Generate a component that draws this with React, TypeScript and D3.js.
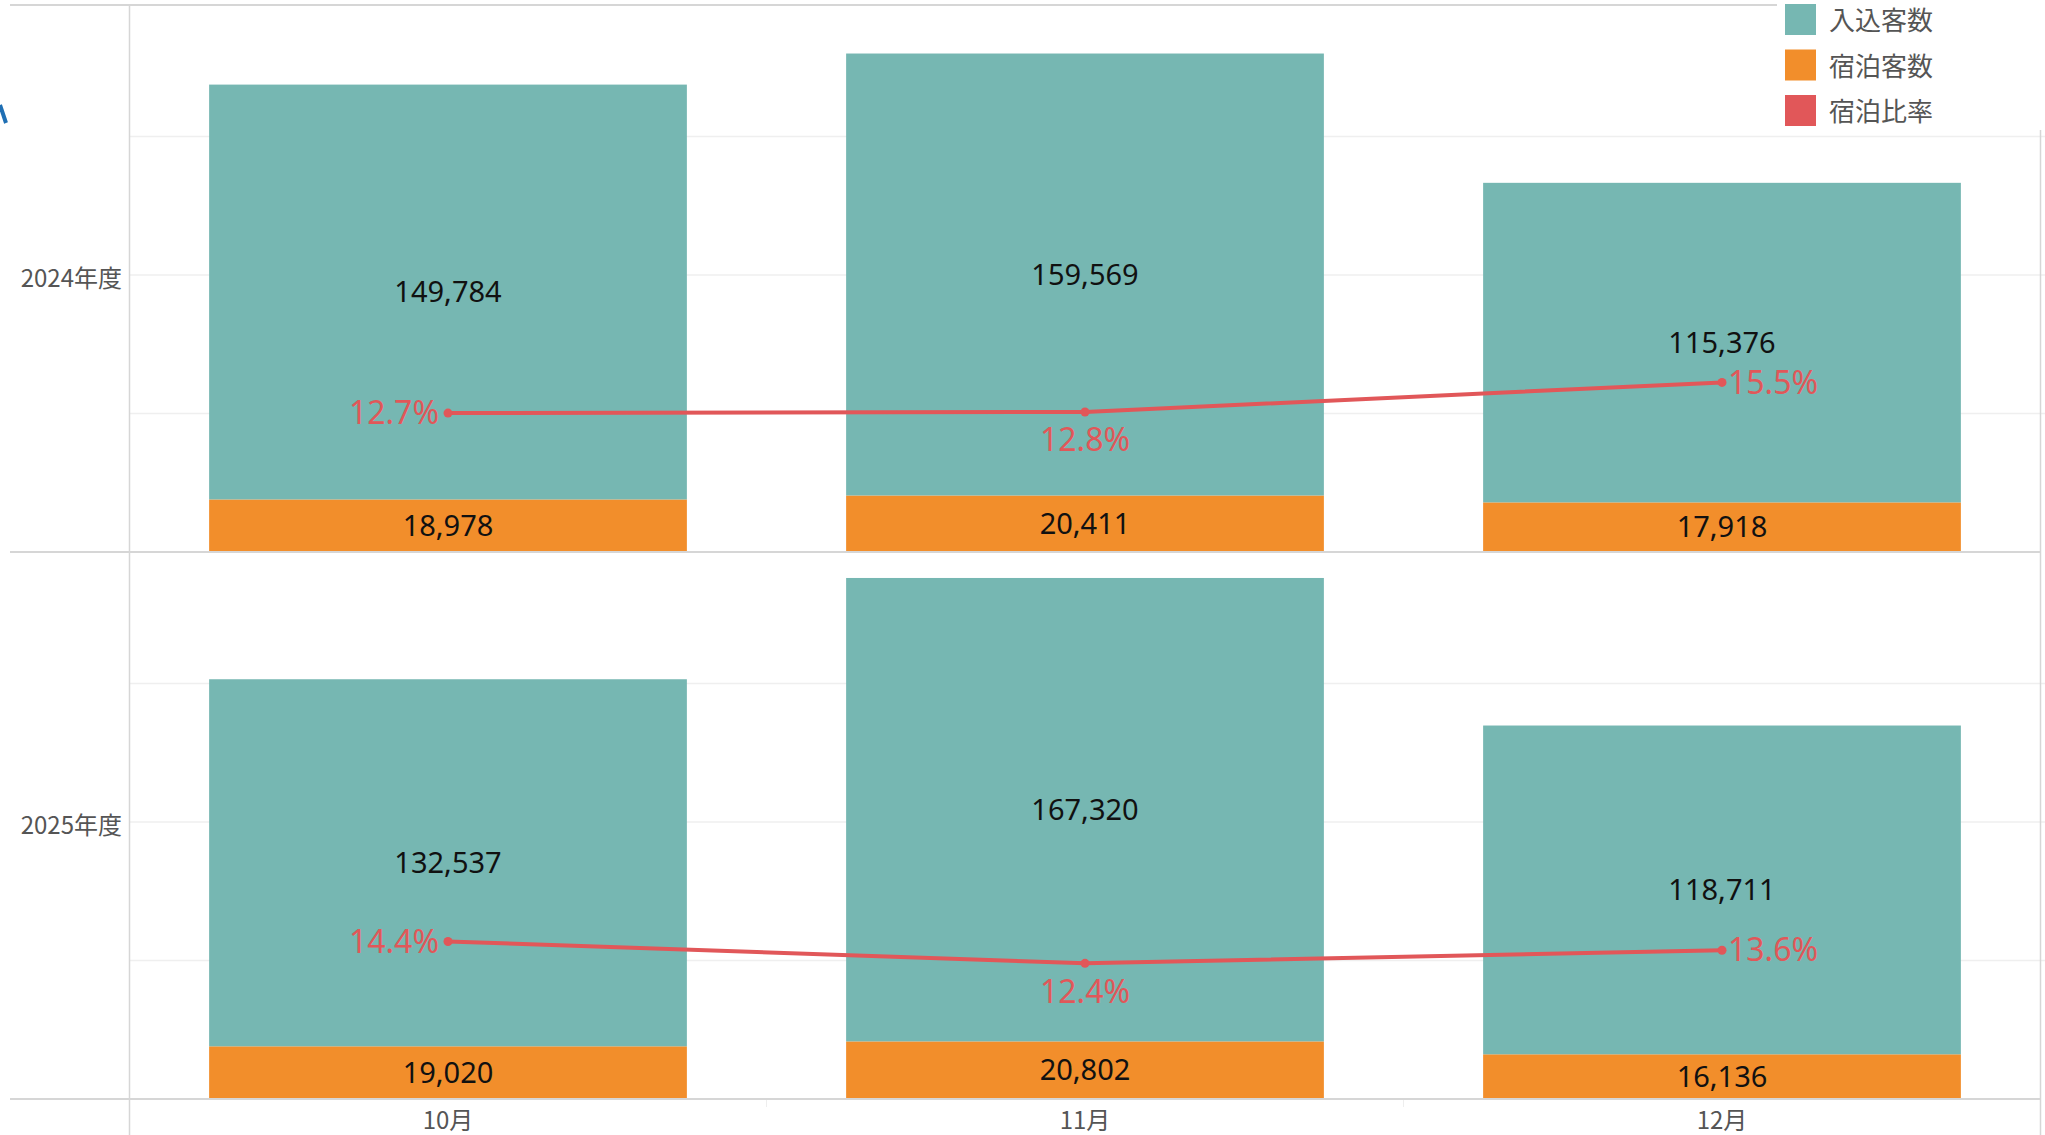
import * as d3 from 'd3';
import { useEffect } from 'react';

const months = ['10月', '11月', '12月'];
const years = ['2024年度', '2025年度'];
const visitors2024 = [149784, 159569, 115376];
const stays2024 = [18978, 20411, 17918];
const ratio2024 = [0.127, 0.128, 0.155];
const visitors2025 = [132537, 167320, 118711];
const stays2025 = [19020, 20802, 16136];
const ratio2025 = [0.144, 0.124, 0.136];
const legendItems = ['入込客数', '宿泊客数', '宿泊比率'];

const TEAL = '#76b7b2';
const ORANGE = '#f28e2b';
const RED = '#e15759';
const LINE = '#d6d6d6';
const GRID = '#efefef';
const NUM_FONT = "'Noto Sans', 'Noto Sans CJK JP', sans-serif";
const CJK_FONT = "'Noto Sans CJK JP', 'Noto Sans', sans-serif";

const width = 2045;
const height = 1135;
const plotLeft = 129.5;
const plotRight = 2040.5;
const panelHeight = 547;
const panelBottoms = [552, 1099];

// where each ratio label sits relative to its point
const ratioPlacement = ['left', 'below', 'right'];

const rows = [
  { year: years[0], visitors: visitors2024, stays: stays2024, ratio: ratio2024 },
  { year: years[1], visitors: visitors2025, stays: stays2025, ratio: ratio2025 },
];

const fmt = d3.format(',');
const pct = d3.format('.1%');

export default function App() {
  useEffect(() => {
    document.body.style.margin = '0';
  }, []);

  const x = d3.scaleBand<string>()
    .domain(months)
    .range([plotLeft, plotRight])
    .paddingInner(0.25)
    .paddingOuter(0.125);

  const legendColor = d3.scaleOrdinal<string, string>()
    .domain(legendItems)
    .range([TEAL, ORANGE, RED]);

  return (
    <svg width={width} height={height} viewBox={`0 0 ${width} ${height}`} style={{ display: 'block' }}>
      <rect width={width} height={height} fill="#fff" />

      {rows.map((row, ri) => {
        const bottom = panelBottoms[ri];
        const top = bottom - panelHeight;
        const y = d3.scaleLinear().domain([0, 197500]).range([bottom, top]);
        const yr = d3.scaleLinear().domain([0, 0.5]).range([bottom, top]);
        const cx = (m: string) => (x(m) ?? 0) + x.bandwidth() / 2;
        const line = d3.line<number>()
          .x((_, i) => cx(months[i]))
          .y((d) => yr(d));

        return (
          <g key={row.year}>
            {y.ticks(4).filter((t) => t > 0).map((t) => (
              <line key={t} x1={plotLeft} x2={width} y1={y(t)} y2={y(t)} stroke={GRID} strokeWidth={1.5} />
            ))}
            <text
              x={122}
              y={(top + bottom) / 2}
              dy="0.35em"
              textAnchor="end"
              fontFamily={CJK_FONT}
              fontSize={24}
              fill="#555"
            >
              {row.year}
            </text>

            {months.map((m, i) => {
              const s = row.stays[i];
              const v = row.visitors[i];
              return (
                <g key={m}>
                  <rect x={x(m)} width={x.bandwidth()} y={y(s)} height={y(0) - y(s)} fill={ORANGE} />
                  <rect x={x(m)} width={x.bandwidth()} y={y(s + v)} height={y(s) - y(s + v)} fill={TEAL} />
                  <text
                    x={cx(m)}
                    y={(y(s) + y(s + v)) / 2}
                    dy="0.35em"
                    textAnchor="middle"
                    fontFamily={NUM_FONT}
                    fontSize={29}
                    fill="#111"
                  >
                    {fmt(v)}
                  </text>
                  <text
                    x={cx(m)}
                    y={(y(0) + y(s)) / 2}
                    dy="0.35em"
                    textAnchor="middle"
                    fontFamily={NUM_FONT}
                    fontSize={29}
                    fill="#111"
                  >
                    {fmt(s)}
                  </text>
                </g>
              );
            })}

            <path d={line(row.ratio) ?? ''} fill="none" stroke={RED} strokeWidth={4} />
            {row.ratio.map((r, i) => {
              const px = cx(months[i]);
              const py = yr(r);
              const place = ratioPlacement[i];
              const lx = place === 'left' ? px - 9 : place === 'right' ? px + 6 : px;
              const ly = place === 'below' ? py + 28 : py;
              const anchor = place === 'left' ? 'end' : place === 'right' ? 'start' : 'middle';
              return (
                <g key={i}>
                  <circle cx={px} cy={py} r={4.5} fill={RED} />
                  <text
                    x={lx}
                    y={ly}
                    dy="0.35em"
                    textAnchor={anchor}
                    fontFamily={NUM_FONT}
                    fontSize={32}
                    fill={RED}
                  >
                    {pct(r)}
                  </text>
                </g>
              );
            })}
          </g>
        );
      })}

      {/* frame lines */}
      <line x1={10} x2={plotRight} y1={5} y2={5} stroke={LINE} strokeWidth={2} />
      {panelBottoms.map((b) => (
        <line key={b} x1={10} x2={plotRight} y1={b} y2={b} stroke={LINE} strokeWidth={2} />
      ))}
      <line x1={plotLeft} x2={plotLeft} y1={5} y2={height} stroke={LINE} strokeWidth={1.5} />
      <line x1={plotRight} x2={plotRight} y1={130} y2={height} stroke={LINE} strokeWidth={1.5} />
      {x.domain().slice(1).map((m) => {
        const bx = (x(m) ?? 0) - (x.step() - x.bandwidth()) / 2;
        return <line key={m} x1={bx} x2={bx} y1={1100} y2={1107} stroke="#eee" strokeWidth={1} />;
      })}

      {/* x axis labels */}
      {months.map((m) => (
        <text
          key={m}
          x={(x(m) ?? 0) + x.bandwidth() / 2}
          y={1121}
          dy="0.35em"
          textAnchor="middle"
          fontFamily={CJK_FONT}
          fontSize={24}
          fill="#555"
        >
          {m}
        </text>
      ))}

      {/* legend */}
      <rect x={1777} y={0} width={width - 1777} height={130} fill="#fff" />
      {legendItems.map((item, i) => (
        <g key={item} transform={`translate(1785, ${4 + i * 45.5})`}>
          <rect width={31} height={31} fill={legendColor(item)} />
          <text x={44} y={17} dy="0.35em" fontFamily={CJK_FONT} fontSize={26} fill="#555">
            {item}
          </text>
        </g>
      ))}

      {/* clipped glyph at the left edge */}
      <path d="M0,105 L6,123" stroke="#1f6fb4" strokeWidth={4} fill="none" />
    </svg>
  );
}
